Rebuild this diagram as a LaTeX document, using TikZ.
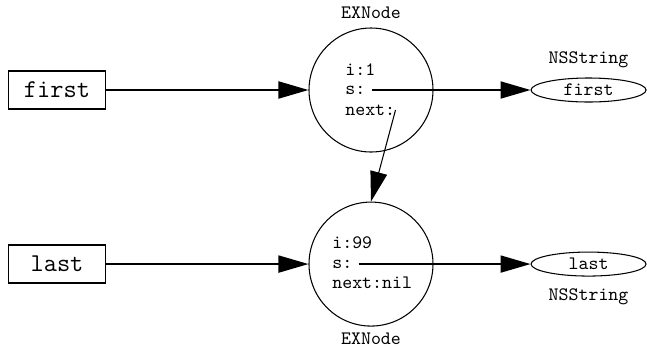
\documentclass[tikz,border=0pt]{standalone}
\usetikzlibrary{arrows.meta,positioning,calc,shapes.geometric}

\begin{document}
\begin{tikzpicture}[>={Triangle[length=0.6cm,width=0.34cm]},node distance=1.0cm]
  \tikzstyle{varbox}=[draw,line width=1.1pt,inner sep=0pt,minimum width=1.94cm,minimum height=0.76cm,font=\ttfamily\fontsize{14.6}{16}\selectfont]
  \tikzstyle{objnode}=[draw,circle,line width=0.6pt,inner sep=0pt,minimum size=2.48cm]
  \tikzstyle{strnode}=[draw,ellipse,line width=0.6pt,inner sep=0pt,minimum width=2.3cm,minimum height=0.48cm,font=\ttfamily\fontsize{10.8}{12}\selectfont]
  \tikzstyle{field}=[inner sep=0pt,anchor=west,font=\ttfamily\fontsize{10.8}{12}\selectfont]
  \tikzstyle{typelabel}=[font=\ttfamily\fontsize{10.8}{12}\selectfont]
  \useasboundingbox (-7.42,1.8) rectangle (5.52,-5.18);
  % objects
  \node[objnode,label={[typelabel,label distance=0.06cm]above:EXNode}] (firstobj) at (0,0) {};
  \node[objnode,below=0.98cm of firstobj,label={[typelabel,label distance=0.0cm]below:EXNode}] (lastobj) {};
  % variables and strings
  \node[varbox,left=4.04cm of firstobj] (firstvar) {first};
  \node[varbox,left=4.04cm of lastobj] (lastvar) {last};
  \node[strnode,right=1.94cm of firstobj,label={[typelabel,label distance=0.06cm]above:NSString}] (firststr) {first};
  \node[strnode,right=1.94cm of lastobj,label={[typelabel,label distance=0.12cm]below:NSString}] (laststr) {last};
  % fields
  \node[field] (firsti) at ($(firstobj.center)+(-0.52,0.4)$) {i:1};
  \node[field] (firsts) at ($(firstobj.center)+(-0.52,0)$) {s:};
  \node[field] (firstnext) at ($(firstobj.center)+(-0.52,-0.4)$) {next:};
  \node[field] (lasti) at ($(lastobj.center)+(-0.78,0.42)$) {i:99};
  \node[field] (lasts) at ($(lastobj.center)+(-0.78,0)$) {s:};
  \node[field] (lastnext) at ($(lastobj.center)+(-0.78,-0.38)$) {next:nil};
  % pointers
  \draw[->,line width=1.1pt] (firstvar) -- (firstobj);
  \draw[->,line width=1.1pt] (lastvar) -- (lastobj);
  \draw[->,line width=1.1pt,shorten <=0.12cm] (firsts.east) -- (firststr);
  \draw[->,line width=1.1pt,shorten <=0.12cm] (lasts.east) -- (laststr);
  \draw[->,line width=0.6pt] (firstnext.east) -- (lastobj.north);
\end{tikzpicture}
\end{document}
